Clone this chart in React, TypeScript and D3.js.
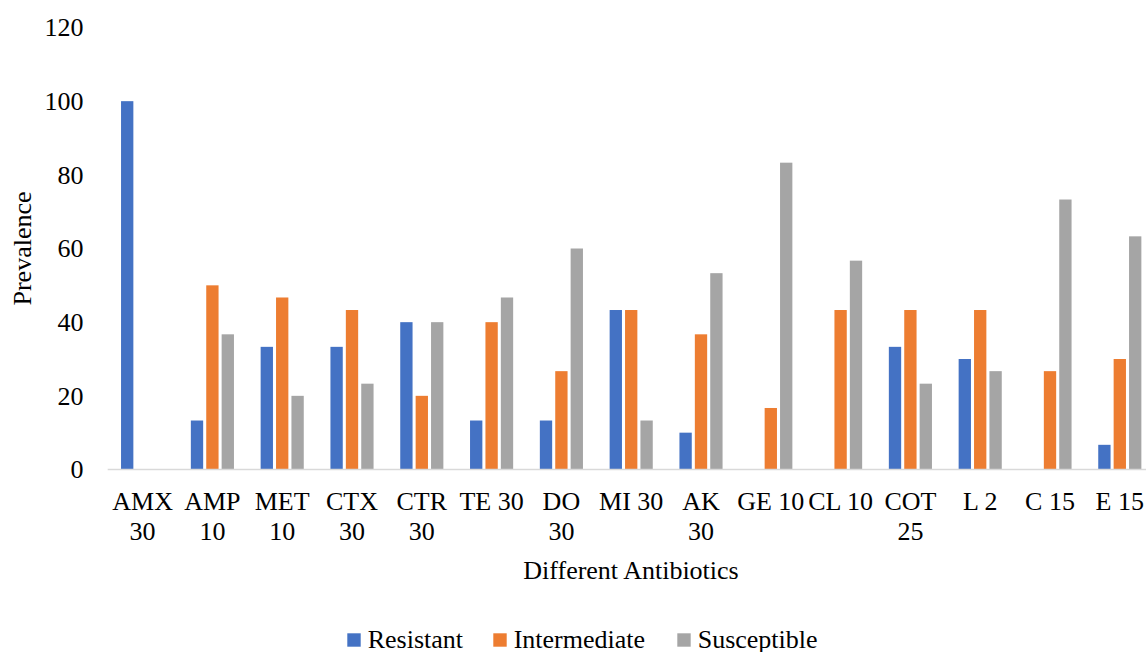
import React from "react";
import * as d3 from "d3";

const categories: string[][] = [
  ["AMX", "30"], ["AMP", "10"], ["MET", "10"], ["CTX", "30"], ["CTR", "30"],
  ["TE 30"], ["DO", "30"], ["MI 30"], ["AK", "30"], ["GE 10"], ["CL 10"],
  ["COT", "25"], ["L 2"], ["C 15"], ["E 15"],
];
const resistant = [100, 13.3, 33.3, 33.3, 40, 13.3, 13.3, 43.3, 10, 0, 0, 33.3, 30, 0, 6.7];
const intermediate = [0, 50, 46.7, 43.3, 20, 40, 26.7, 43.3, 36.7, 16.7, 43.3, 43.3, 43.3, 26.7, 30];
const susceptible = [0, 36.7, 20, 23.3, 40, 46.7, 60, 13.3, 53.3, 83.3, 56.7, 23.3, 26.7, 73.3, 63.3];
const seriesNames = ["Resistant", "Intermediate", "Susceptible"];
const seriesColors = ["#4472C4", "#ED7D31", "#A5A5A5"];
const yTicks = [0, 20, 40, 60, 80, 100, 120];

const W = 1146;
const H = 652;
const FONT = "'Liberation Serif', 'Times New Roman', serif";

export default function App() {
  const series = [resistant, intermediate, susceptible];
  const keys = categories.map((c) => c.join(" "));
  const x0 = d3.scaleBand<string>().domain(keys).range([107.7, 1154.7]).paddingInner(0).paddingOuter(0);
  const x1 = d3
    .scaleBand<string>()
    .domain(seriesNames)
    .range([-23.1, 23.1])
    .paddingInner(0.2)
    .paddingOuter(0.1);
  const y = d3.scaleLinear().domain([0, 120]).range([469.5, 27.5]);

  const legendX = [347.3, 493.3, 677.3];

  return (
    <svg
      width={W}
      height={H}
      style={{ position: "absolute", left: 0, top: 0, overflow: "hidden", background: "#fff" }}
      fontFamily={FONT}
    >
      {/* bars */}
      {series.map((vals, si) =>
        vals.map((v, ci) => {
          if (v <= 0) return null;
          const cx = (x0(keys[ci]) as number) + x0.bandwidth() / 2;
          return (
            <rect
              key={`${si}-${ci}`}
              x={cx + (x1(seriesNames[si]) as number)}
              y={y(v)}
              width={x1.bandwidth()}
              height={y(0) - y(v)}
              fill={seriesColors[si]}
            />
          );
        })
      )}
      {/* x axis line */}
      <line x1={107.7} x2={1154.7} y1={y(0)} y2={y(0)} stroke="#D9D9D9" strokeWidth={1.5} />
      {/* y tick labels */}
      {yTicks.map((t) => (
        <text key={t} x={83.5} y={y(t)} dy="0.34em" textAnchor="end" fontSize={26} fill="#000">
          {t}
        </text>
      ))}
      {/* x category labels */}
      {categories.map((lines, ci) => {
        const cx = (x0(keys[ci]) as number) + x0.bandwidth() / 2;
        return (
          <text key={ci} x={cx} y={510} textAnchor="middle" fontSize={26} fill="#000">
            {lines.map((l, li) => (
              <tspan key={li} x={cx} dy={li === 0 ? 0 : 30}>
                {l}
              </tspan>
            ))}
          </text>
        );
      })}
      {/* axis titles */}
      <text x={631} y={579} textAnchor="middle" fontSize={26} fill="#000">
        Different Antibiotics
      </text>
      <text
        transform={`translate(31,${(y(0) + y(120)) / 2}) rotate(-90)`}
        textAnchor="middle"
        fontSize={26}
        fill="#000"
      >
        Prevalence
      </text>
      {/* legend */}
      {seriesNames.map((n, i) => (
        <g key={n} transform={`translate(${legendX[i]},0)`}>
          <rect x={0} y={633.3} width={13.4} height={13.4} fill={seriesColors[i]} />
          <text x={20.4} y={648} fontSize={26} fill="#000">
            {n}
          </text>
        </g>
      ))}
    </svg>
  );
}
